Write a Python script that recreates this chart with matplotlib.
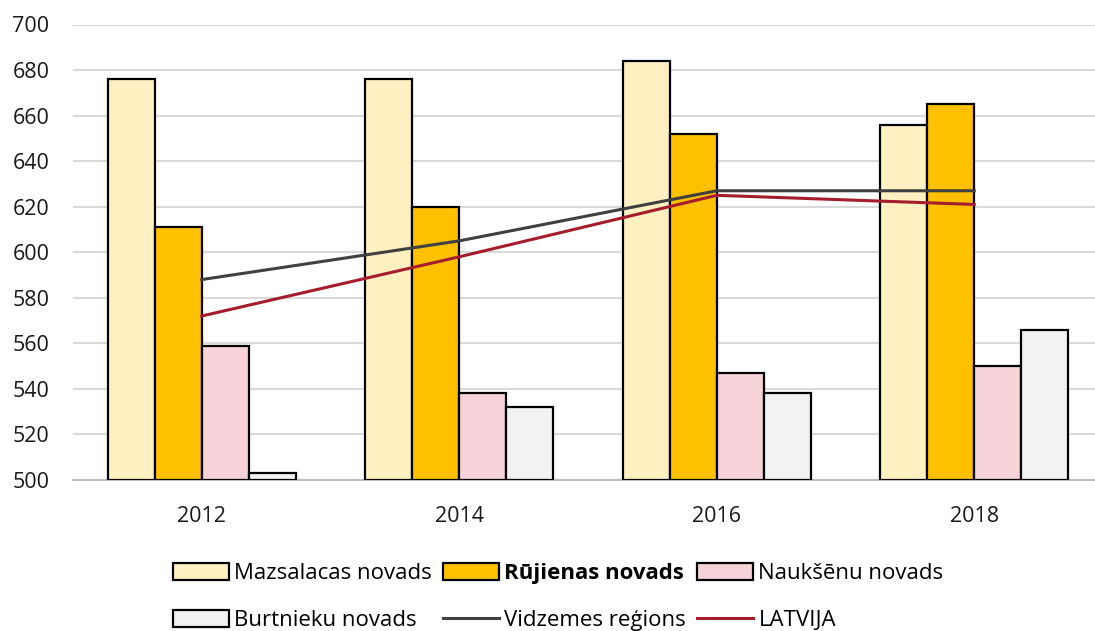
import numpy as np
import matplotlib.pyplot as plt
from matplotlib.patches import Patch
from matplotlib.lines import Line2D

plt.rcParams['font.family'] = ['Open Sans', 'DejaVu Sans']

years = ['2012', '2014', '2016', '2018']
mazsalaca = [676, 676, 684, 656]
rujiena = [611, 620, 652, 665]
naukseni = [559, 538, 547, 550]
burtnieki = [503, 532, 538, 566]
vidzeme = [588, 605, 627, 627]
latvija = [572, 598, 625, 621]

bar_names = ['Mazsalacas novads', 'Rūjienas novads', 'Naukšēnu novads', 'Burtnieku novads']
bar_colors = ['#FFF0C1', '#FFC000', '#F6D3D8', '#F2F2F2']
line_names = ['Vidzemes reģions', 'LATVIJA']
line_colors = ['#404040', '#A51D2D']

fig = plt.figure(figsize=(10.95, 6.31), dpi=100)
ax = fig.add_axes([73/1095, 1 - 480/631, 1030/1095, 455.5/631])

x = np.arange(len(years))
w = 0.183
series = [mazsalaca, rujiena, naukseni, burtnieki]
for i, vals in enumerate(series):
    ax.bar(x + (i - 1.5) * w, np.array(vals) - 500, width=w, bottom=500,
           color=bar_colors[i], edgecolor='black', linewidth=1.6, zorder=3)

ax.plot(x, vidzeme, color=line_colors[0], linewidth=2.2, zorder=4)
ax.plot(x, latvija, color=line_colors[1], linewidth=2.2, zorder=4)

ax.set_xlim(-0.5, 3.5)
ax.set_ylim(500, 700)
ax.set_yticks(range(500, 701, 20))
ax.set_xticks(x)
ax.set_xticklabels(years)
ax.tick_params(axis='both', length=0, labelsize=15.5, colors='#1a1a1a')
ax.tick_params(axis='x', pad=19)
ax.tick_params(axis='y', pad=17)
ax.grid(axis='y', color='#D9D9D9', linewidth=1.5, zorder=0)
for s in ['top', 'right', 'left']:
    ax.spines[s].set_visible(False)
ax.spines['bottom'].set_color('#BFBFBF')
ax.spines['bottom'].set_linewidth(1.5)

# legend handles in column order (ncol=3 fills column-wise)
h = [Patch(facecolor=c, edgecolor='black', linewidth=1.6) for c in bar_colors]
l = [Line2D([0], [0], color=c, linewidth=2.2) for c in line_colors]
handles = [h[0], h[3], h[1], l[0], h[2], l[1]]
labels = [bar_names[0], bar_names[3], bar_names[1], line_names[0], bar_names[2], line_names[1]]
leg = fig.legend(handles, labels, ncol=3, loc='center', bbox_to_anchor=(0.51, 0.0538),
                 frameon=False, fontsize=16, handlelength=2.5, handleheight=0.8,
                 handletextpad=0.25, columnspacing=0.5, labelspacing=1.17)
for t in leg.get_texts():
    if t.get_text() == 'Rūjienas novads':
        t.set_fontweight('bold')

fig.savefig('out.png', dpi=100)
